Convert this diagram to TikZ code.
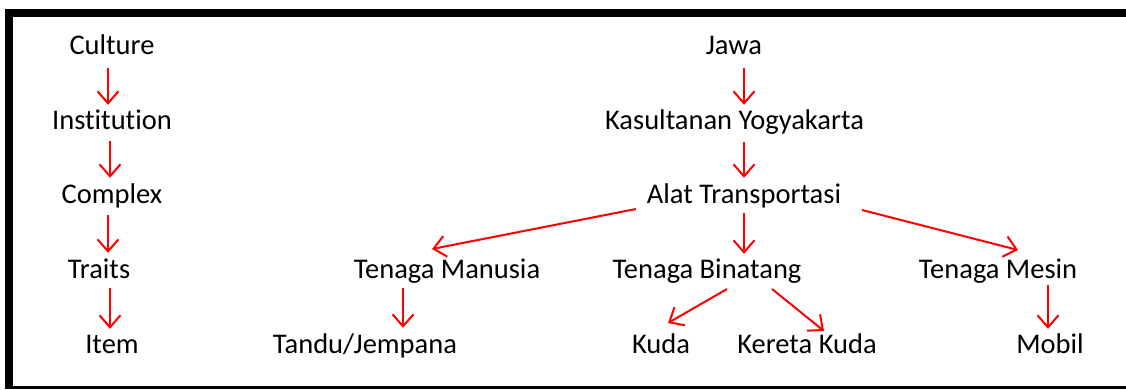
\documentclass[tikz,border=0pt]{standalone}
\usepackage{fontspec}
\setmainfont{Carlito}[Ligatures={NoCommon}]
\usetikzlibrary{arrows.meta,calc}
\begin{document}
\begin{tikzpicture}[x=1pt,y=-1pt,
  lbl/.style={anchor=base,inner sep=0pt,text height=18pt,text depth=6pt,font=\fontsize{28.5}{32}\selectfont},
  con/.style={draw=red,line width=2pt,-{Straight Barb[length=12pt,width=21pt,line width=2pt]}}]
\useasboundingbox (0,0) rectangle (1126,389);
% frame
\fill[black] (5,9) rectangle (1126,17);
\fill[black] (5,9) rectangle (13,389);
\fill[black] (5,386) rectangle (1126,389);
% left column
\node[lbl] (cul) at (112,54) {Culture};
\node[lbl] (ins) at (112,129) {Institution};
\node[lbl] (com) at (112,203) {Complex};
\node[lbl] (tra) at (99,278) {Traits};
\node[lbl] (itm) at (112,353) {Item};
% right tree
\node[lbl] (jaw) at (734,54) {Jawa};
\node[lbl] (kas) at (734.5,129) {Kasultanan Yogyakarta};
\node[lbl] (ala) at (744,203) {Alat Transportasi};
\node[lbl] (man) at (447,278) {Tenaga Manusia};
\node[lbl] (bin) at (707,278) {Tenaga Binatang};
\node[lbl] (mes) at (998,278) {Tenaga Mesin};
\node[lbl] (tan) at (365,353) {Tandu/Jempana};
\node[lbl] (kud) at (661,353) {Kuda};
\node[lbl] (ker) at (807,353) {Kereta Kuda};
\node[lbl] (mob) at (1050,353) {Mobil};
% left arrows
\draw[con,shorten <=8pt,shorten >=6pt] ([xshift=-4pt]cul.south) -- ([xshift=-4pt]cul.south |- ins.north);
\draw[con,shorten <=6pt,shorten >=7pt] ([xshift=-2pt]ins.south) -- ([xshift=-2pt]ins.south |- com.north);
\draw[con,shorten <=6pt,shorten >=7pt] ([xshift=-4pt]com.south) -- ([xshift=-4pt]com.south |- tra.north);
\draw[con,shorten <=4pt,shorten >=6pt] ([xshift=-2pt]itm.north |- tra.south) -- ([xshift=-2pt]itm.north);
% right arrows
\draw[con,shorten <=8pt,shorten >=6pt] ([xshift=10pt]jaw.south) -- ([xshift=10pt]jaw.south |- kas.north);
\draw[con,shorten <=7pt,shorten >=7pt] (ala.north |- kas.south) -- (ala.north);
\draw[con,shorten <=4pt,shorten >=6pt] (ala.south) -- (ala.south |- bin.north);
\draw[con] ($(ala.base)+(-108,6)$) -- ($(man.base)+(-15,-29)$);
\draw[con] ($(ala.base)+(118,7)$) -- ($(mes.base)+(20,-28)$);
\draw[con,shorten <=4pt,shorten >=7pt] ([xshift=-44pt]man.south) -- ([xshift=-44pt]man.south |- tan.north);
\draw[con] ($(bin.base)+(20,11)$) -- ($(kud.base)+(7,-30)$);
\draw[con] ($(bin.base)+(65,11)$) -- ($(ker.base)+(17,-22)$);
\draw[con,shorten <=1pt,shorten >=6pt] ([xshift=-2pt]mob.north |- mes.south) -- ([xshift=-2pt]mob.north);
\end{tikzpicture}
\end{document}
